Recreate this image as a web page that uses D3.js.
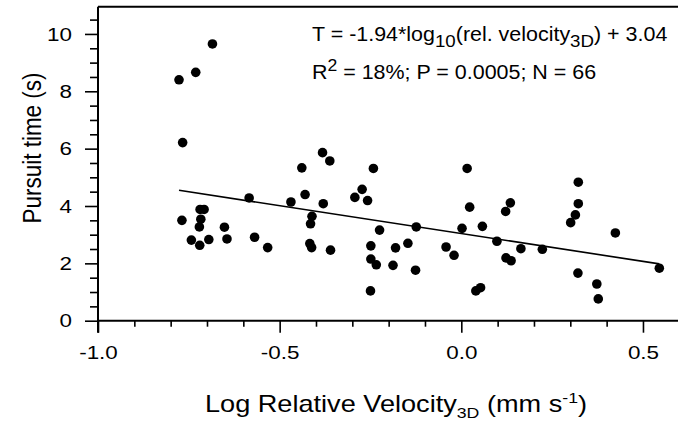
<!DOCTYPE html>
<html>
<head>
<meta charset="utf-8">
<script src="https://cdn.jsdelivr.net/npm/d3@7"></script>
<style>
  body { margin: 0; background: #fff; }
  svg { display: block; font-family: "Liberation Sans", Arial, sans-serif; }
</style>
</head>
<body>
<svg id="chart" width="678" height="423"></svg>
<script>
// log10 relative velocity (x) and pursuit time in s (y)
const velocity = [-0.685, -0.731, -0.777, -0.767, -0.382, -0.439, -0.362, -0.584, -0.430, -0.469,
  -0.380, -0.769, -0.719, -0.708, -0.717, -0.721, -0.652, -0.743, -0.695, -0.720,
  -0.645, -0.569, -0.533, -0.411, -0.415, -0.417, -0.412, -0.360, -0.242, -0.273,
  -0.293, -0.258, -0.225, -0.249, -0.249, -0.234, -0.250, -0.181, -0.188, -0.147,
  -0.124, -0.126, -0.042, -0.020, 0.002, 0.016, 0.023, 0.058, 0.040, 0.053,
  0.098, 0.123, 0.137, 0.122, 0.135, 0.164, 0.223, 0.301, 0.314, 0.322,
  0.322, 0.424, 0.321, 0.373, 0.377, 0.545]
const pursuitTime = [9.65, 8.66, 8.40, 6.21, 5.86, 5.33, 5.57, 4.28, 4.40, 4.14,
  4.08, 3.50, 3.88, 3.88, 3.54, 3.27, 3.26, 2.81, 2.83, 2.63,
  2.85, 2.91, 2.55, 3.64, 3.38, 2.69, 2.55, 2.46, 5.31, 4.58,
  4.30, 4.19, 3.16, 2.61, 2.15, 1.95, 1.04, 2.54, 1.93, 2.70,
  3.27, 1.76, 2.57, 2.28, 3.22, 5.31, 3.96, 3.29, 1.04, 1.15,
  2.77, 2.19, 2.09, 3.81, 4.11, 2.51, 2.49, 3.42, 3.69, 4.08,
  4.83, 3.06, 1.66, 1.28, 0.76, 1.83]

const xTicks = [-1.0, -0.5, 0.0, 0.5]
const yTicks = [0, 2, 4, 6, 8, 10]
const fitSlope = -1.94
const fitIntercept = 3.04

const stretch = 1.18   // the original lettering is wide
const svg = d3.select('#chart')

const x = d3.scaleLinear()
  .domain([-1, 0.6])
  .range([98, 679.3])
const y = d3.scaleLinear()
  .domain([0, 10.95])
  .range([320.7, 6.7])

const xMinor = d3.range(-10, 7).map(d => d / 10).filter(d => !xTicks.includes(d))
const yMinor = d3.range(0, 22).map(d => d / 2).filter(d => !yTicks.includes(d))

// x axis
svg.append('g')
  .attr('transform', `translate(0,${y(0)})`)
  .call(d3.axisBottom(x).tickValues(xMinor).tickSize(6).tickFormat(''))
svg.append('g')
  .attr('class', 'xmajor')
  .attr('transform', `translate(0,${y(0)})`)
  .call(d3.axisBottom(x).tickValues(xTicks).tickSize(12).tickPadding(13)
    .tickFormat(d => d.toFixed(1)))

// y axis
svg.append('g')
  .attr('transform', `translate(${x(-1)},0)`)
  .call(d3.axisLeft(y).tickValues(yMinor).tickSize(8).tickFormat(''))
svg.append('g')
  .attr('class', 'ymajor')
  .attr('transform', `translate(${x(-1)},0)`)
  .call(d3.axisLeft(y).tickValues(yTicks).tickSize(13).tickPadding(13))

svg.selectAll('.domain').remove()
svg.selectAll('.tick line').attr('stroke', '#000').attr('stroke-width', 1.6)
svg.selectAll('.tick text')
  .attr('fill', '#000')
  .style('font-size', '19px')
  .attr('transform', `scale(${stretch},1)`)
svg.selectAll('.ymajor .tick text').attr('x', -26 / stretch)

// frame: left, bottom, top
svg.append('line')
  .attr('x1', x(-1)).attr('x2', x(-1))
  .attr('y1', y.range()[1]).attr('y2', y(0) + 12)
  .attr('stroke', '#000').attr('stroke-width', 2)
svg.append('line')
  .attr('x1', x(-1)).attr('x2', 678)
  .attr('y1', y(0)).attr('y2', y(0))
  .attr('stroke', '#000').attr('stroke-width', 2)
svg.append('line')
  .attr('x1', x(-1)).attr('x2', 678)
  .attr('y1', y.range()[1]).attr('y2', y.range()[1])
  .attr('stroke', '#000').attr('stroke-width', 2)

// regression line over the data range
const xExtent = d3.extent(velocity)
svg.append('path')
  .datum(xExtent)
  .attr('d', d3.line().x(d => x(d)).y(d => y(fitSlope * d + fitIntercept)))
  .attr('fill', 'none')
  .attr('stroke', '#000')
  .attr('stroke-width', 1.6)

// points
svg.append('g')
  .selectAll('circle')
  .data(velocity)
  .join('circle')
  .attr('cx', d => x(d))
  .attr('cy', (d, i) => y(pursuitTime[i]))
  .attr('r', 4.8)
  .attr('fill', '#000')

// equation
const eq = svg.append('text')
  .attr('transform', `translate(312,41) scale(1.1,1)`)
  .style('font-size', '19.5px')
eq.append('tspan').text('T = -1.94*log')
eq.append('tspan').attr('dy', 6).style('font-size', '17px').text('10')
eq.append('tspan').attr('dy', -6).text('(rel. velocity')
eq.append('tspan').attr('dy', 6).style('font-size', '17px').text('3D')
eq.append('tspan').attr('dy', -6).text(') + 3.04')

const st = svg.append('text')
  .attr('transform', `translate(312,79) scale(1.1,1)`)
  .style('font-size', '19.5px')
st.append('tspan').text('R')
st.append('tspan').attr('dy', -8).style('font-size', '16px').text('2')
st.append('tspan').attr('dy', 8).text(' = 18%; P = 0.0005; N = 66')

// axis titles
const xt = svg.append('text')
  .attr('transform', `translate(396,411.5) scale(${stretch},1)`)
  .attr('text-anchor', 'middle')
  .style('font-size', '23px')
xt.append('tspan').text('Log Relative Velocity')
xt.append('tspan').attr('dy', 6).style('font-size', '15px').text('3D')
xt.append('tspan').attr('dy', -6).text(' (mm s')
xt.append('tspan').attr('dy', -9).style('font-size', '15px').text('-1')
xt.append('tspan').attr('dy', 9).text(')')

svg.append('text')
  .attr('transform', `translate(41,148) scale(${stretch},1) rotate(-90)`)
  .attr('text-anchor', 'middle')
  .style('font-size', '22.5px')
  .text('Pursuit time (s)')
</script>
</body>
</html>
